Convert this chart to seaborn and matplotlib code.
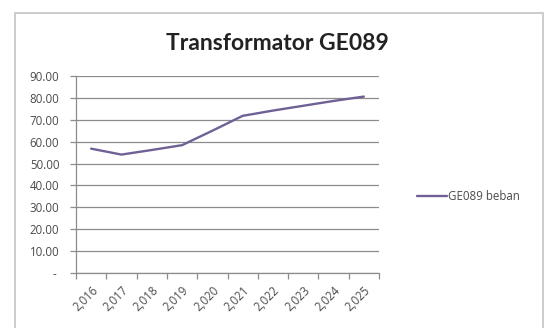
import matplotlib
matplotlib.use("Agg")
import matplotlib.pyplot as plt
import seaborn as sns
import pandas as pd
from matplotlib.patches import Rectangle
from matplotlib.ticker import FixedLocator

years = ["2,016", "2,017", "2,018", "2,019", "2,020", "2,021", "2,022", "2,023", "2,024", "2,025"]
beban = [56.8, 54.1, 56.2, 58.4, 65.0, 71.8, 74.2, 76.4, 78.6, 80.6]
series_name = "GE089 beban"
title = "Transformator GE089"
yticks = [0, 10, 20, 30, 40, 50, 60, 70, 80, 90]
ytick_labels = [" - ", "10.00", "20.00", "30.00", "40.00", "50.00", "60.00", "70.00", "80.00", "90.00"]

sns.set_theme(style="white")
plt.rcParams["font.family"] = ["Open Sans", "DejaVu Sans"]

df = pd.DataFrame({"year": years, "value": beban, "series": series_name})

fig = plt.figure(figsize=(5.49, 3.28), dpi=100)
fig.patch.set_facecolor("white")
# chart frame
fig.patches.append(Rectangle((15 / 549, -0.05), (543 - 15) / 549, 1 - 13 / 328 + 0.05,
                             transform=fig.transFigure, fill=False,
                             edgecolor="#c4c4c4", linewidth=1.2))

ax = fig.add_axes([76 / 549, 1 - 273 / 328, (379 - 76) / 549, (273 - 76) / 328])
grid_c = "#8c8c8c"
line_c = "#6f6196"
text_c = "#4a4a4a"

sns.lineplot(data=df, x="year", y="value", hue="series", palette=[line_c],
             linewidth=1.7, ax=ax, sort=False)

ax.set_xlim(-0.5, len(years) - 0.5)
ax.set_ylim(0, 90)
ax.set_yticks(yticks)
ax.set_yticklabels(ytick_labels)
ax.yaxis.grid(True, color=grid_c, linewidth=0.9)
ax.xaxis.grid(False)
ax.set_axisbelow(True)

for s in ["top", "right"]:
    ax.spines[s].set_visible(False)
for s in ["left", "bottom"]:
    ax.spines[s].set_color(grid_c)
    ax.spines[s].set_linewidth(0.9)

ax.set_xticks(range(len(years)))
ax.set_xticklabels(years, rotation=45, ha="right", rotation_mode="anchor")
ax.xaxis.set_minor_locator(FixedLocator([i - 0.5 for i in range(len(years) + 1)]))
ax.tick_params(axis="x", which="major", length=0, labelsize=8.3, colors=text_c, pad=8)
ax.tick_params(axis="x", which="minor", length=4, width=0.9, color=grid_c, bottom=True)
ax.tick_params(axis="y", which="major", length=4, width=0.9, color=grid_c, left=True,
               labelsize=8.3, labelcolor=text_c, pad=8)
ax.set_xlabel("")
ax.set_ylabel("")

fig.text(0.505, 1 - 43 / 328, title, ha="center", va="center",
         fontsize=16.5, fontweight="bold", color="#222222", family=["Lato", "DejaVu Sans"])

leg = ax.legend(loc="center left", bbox_to_anchor=(1.105, 0.39), frameon=False,
                fontsize=8.3, handlelength=2.6, handletextpad=0.1, borderpad=0)
for t in leg.get_texts():
    t.set_color(text_c)

fig.savefig("out.png", dpi=100)
